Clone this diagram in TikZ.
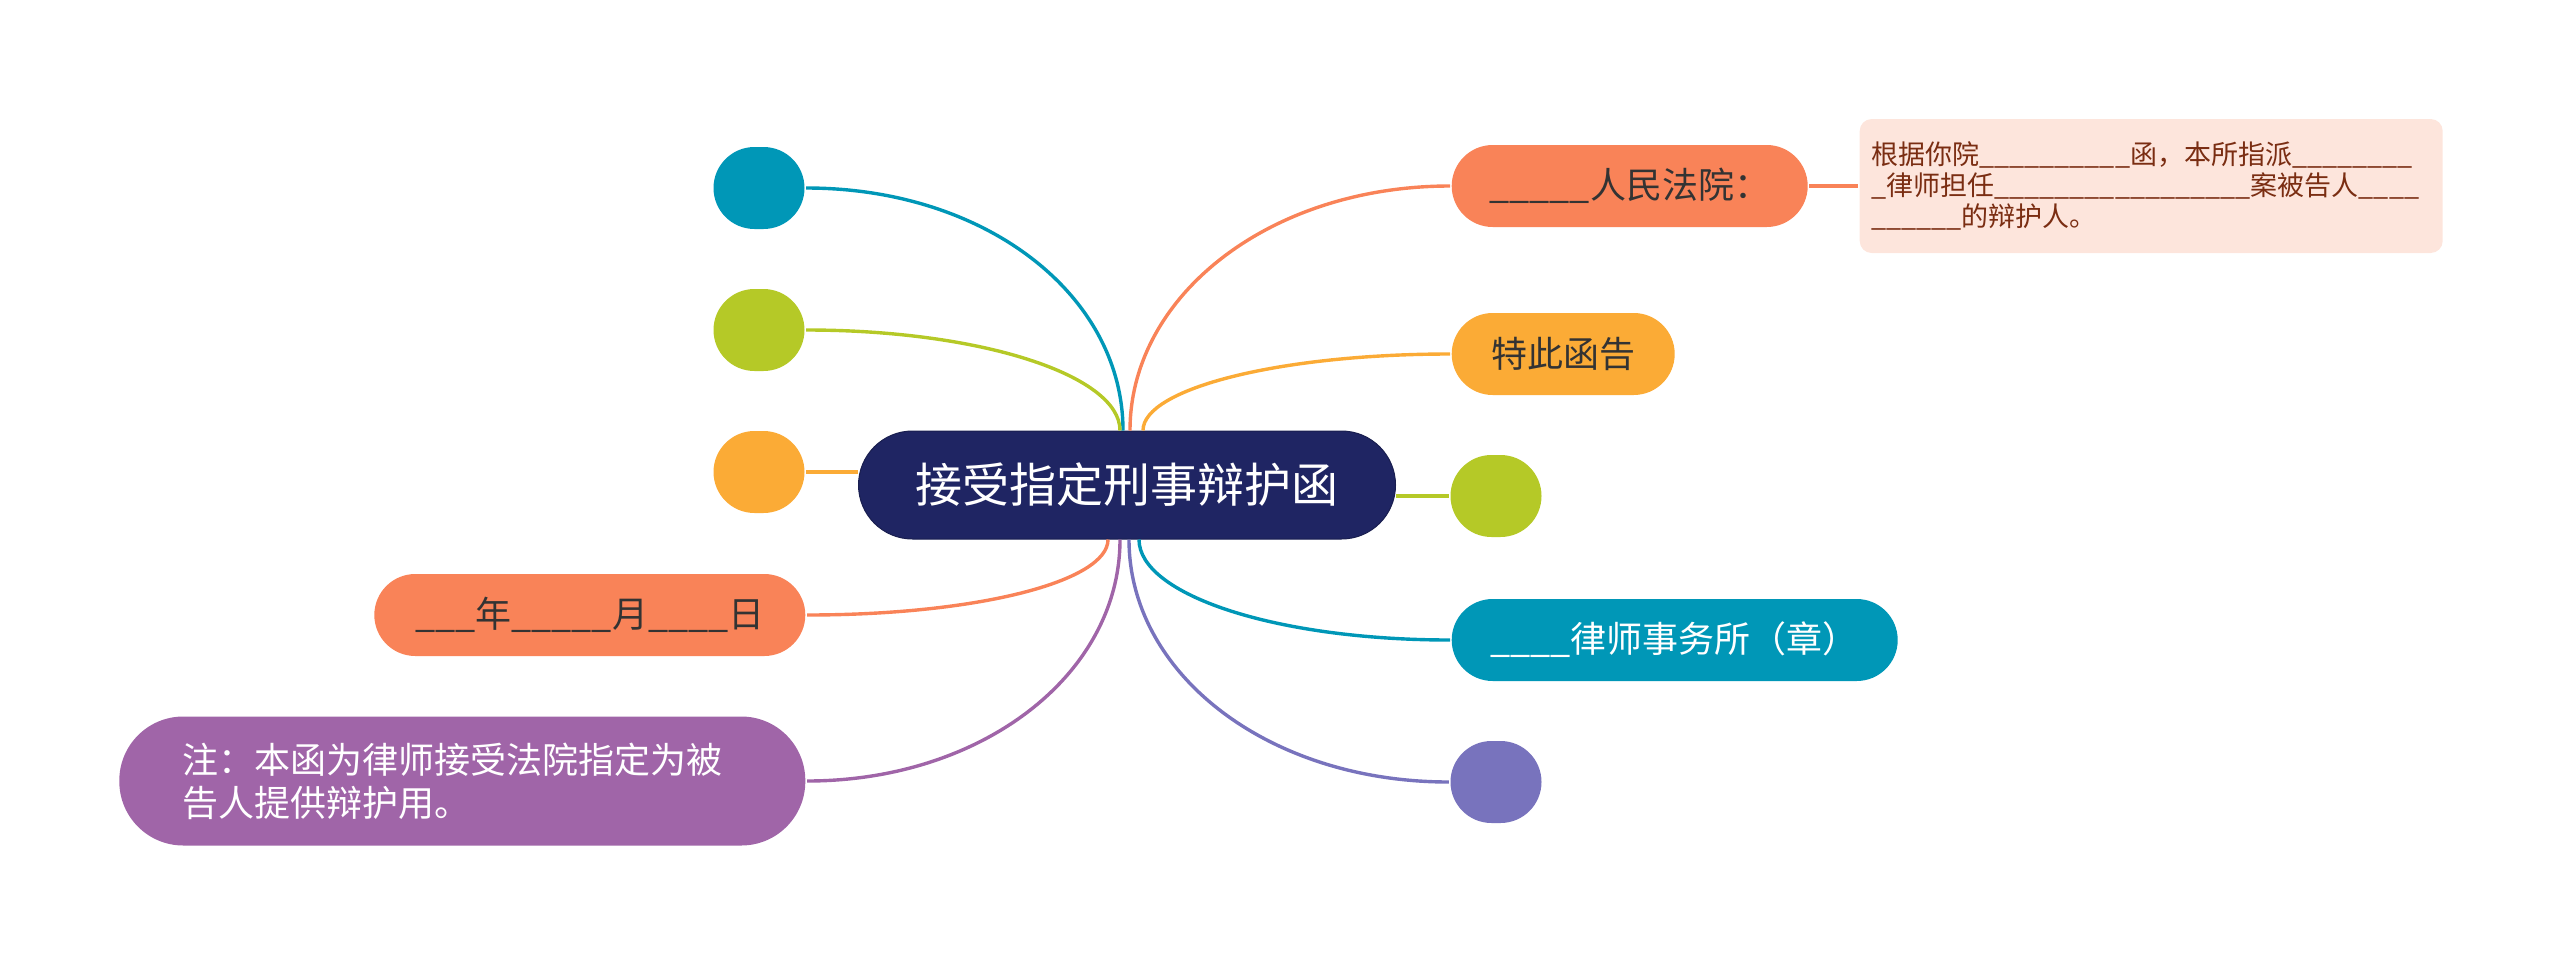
\documentclass[tikz,border=0pt]{standalone}
\usepackage{fontspec}
\setmainfont{Noto Sans CJK SC}
\usetikzlibrary{positioning}

\definecolor{cnavy}{HTML}{1F2563}
\definecolor{cteal}{HTML}{0097B7}
\definecolor{cgreen}{HTML}{B5C927}
\definecolor{cyellow}{HTML}{FBAB36}
\definecolor{ccoral}{HTML}{F98358}
\definecolor{cpurple}{HTML}{A065A8}
\definecolor{cblue}{HTML}{7873BD}
\definecolor{cnote}{HTML}{FDE5DC}
\definecolor{cnotetxt}{HTML}{7A2D12}
\definecolor{ctxt}{HTML}{333333}

\begin{document}
\begin{tikzpicture}[x=1pt,y=-1pt,line width=3.4pt,
                   topic/.style={rounded corners=41pt,minimum height=82pt,inner sep=0pt,
                                 text=ctxt,font=\fontsize{36pt}{43pt}\selectfont},
                   blob/.style={rounded corners=41pt,minimum width=91pt,minimum height=82pt,inner sep=0pt}]
\useasboundingbox (0,0) rectangle (2560,967);

\node[fill=cnavy,draw=cnavy!80!black,line width=1pt,rounded corners=54pt,minimum width=537pt,
      minimum height=108pt,text=white,font=\fontsize{47pt}{56pt}\selectfont] (c) at (1127,485) {接受指定刑事辩护函};

% left side
\node[blob,fill=cteal] (l1) at (759,188) {};
\node[blob,fill=cgreen] (l2) at (759,330) {};
\node[blob,fill=cyellow] (l3) at (759,472) {};
\node[topic,fill=ccoral,minimum width=431pt,anchor=east] (l4) at (807,615) {\_\_\_年\_\_\_\_\_月\_\_\_\_日};
\node[topic,fill=cpurple,text=white,minimum width=686pt,minimum height=129pt,rounded corners=64pt,
      text width=560pt,align=left,anchor=east] (l5) at (807,781) {注：本函为律师接受法院指定为被\\告人提供辩护用。};

% right side
\node[topic,fill=ccoral,minimum width=356pt,anchor=west] (r1) at (1450,186) {\_\_\_\_\_人民法院：};
\node[fill=cnote,rounded corners=12pt,minimum width=583pt,minimum height=134pt,inner sep=0pt,
      text width=560pt,align=left,text=cnotetxt,font=\fontsize{27pt}{31pt}\selectfont,anchor=west] (nt) at (1858,186)
      {根据你院\_\_\_\_\_\_\_\_\_\_函，本所指派\_\_\_\_\_\_\_\_\\\_律师担任\_\_\_\_\_\_\_\_\_\_\_\_\_\_\_\_\_案被告人\_\_\_\_\\\_\_\_\_\_\_的辩护人。};
\node[topic,fill=cyellow,minimum width=223pt,anchor=west] (r2) at (1450,354) {特此函告};
\node[blob,fill=cgreen] (r3) at (1496,496) {};
\node[topic,fill=cteal,text=white,minimum width=446pt,anchor=west] (r4) at (1450,640) {\_\_\_\_律师事务所（章）};
\node[blob,fill=cblue] (r5) at (1496,782) {};

% branches
\draw[cteal] ([xshift=-4pt]c.north) .. controls +(0,-135) and +(180,0) .. (l1.east);
\draw[cgreen] ([xshift=-7pt]c.north) .. controls +(0,-55) and +(175,0) .. (l2.east);
\draw[cyellow] (l3.east) -- (l3.east -| c.west);
\draw[ccoral] ([xshift=-19pt]c.south) .. controls +(0,42) and +(170,0) .. (l4.east);
\draw[cpurple] ([xshift=-7pt]c.south) .. controls +(0,135) and +(175,0) .. (l5.east);
\draw[ccoral] ([xshift=3pt]c.north) .. controls +(0,-135) and +(-180,0) .. (r1.west);
\draw[ccoral,line width=4.5pt] (r1.east) -- (nt.west);
\draw[cyellow] ([xshift=16pt]c.north) .. controls +(0,-42) and +(-170,0) .. (r2.west);
\draw[cgreen] (r3.west -| c.east) -- (r3.west);
\draw[cteal] ([xshift=12pt]c.south) .. controls +(0,55) and +(-175,0) .. (r4.west);
\draw[cblue] ([xshift=2pt]c.south) .. controls +(0,135) and +(-180,0) .. (r5.west);
\end{tikzpicture}
\end{document}
